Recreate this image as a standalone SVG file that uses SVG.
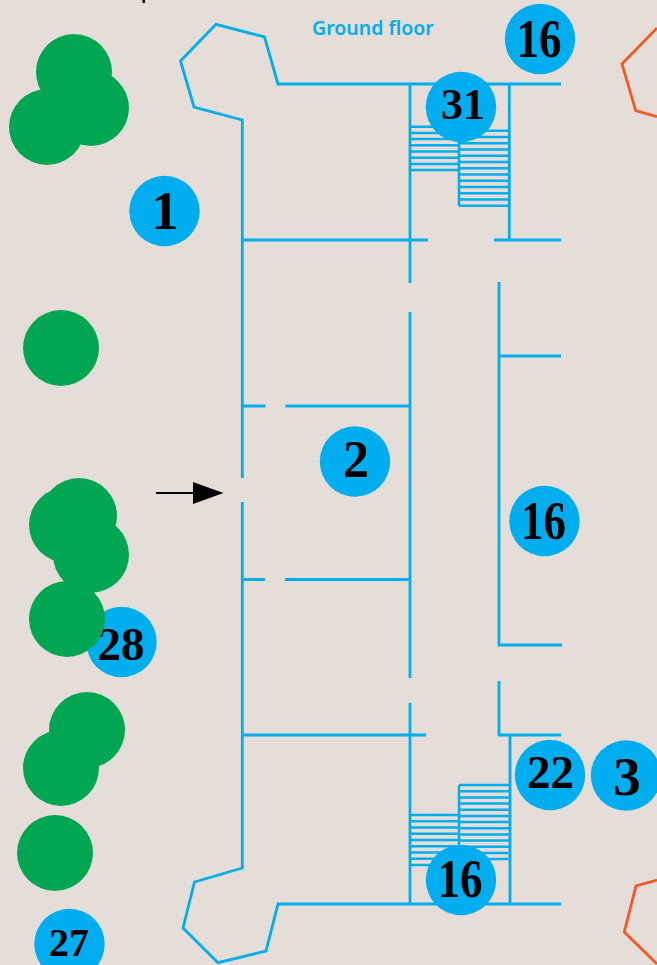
<svg xmlns="http://www.w3.org/2000/svg" width="657" height="965" viewBox="0 0 657 965">
<style>
.w{fill:none;stroke:#00aeef;stroke-width:2.800;stroke-linejoin:miter}
.s{fill:none;stroke:#00aeef;stroke-width:2.500}
.o{fill:none;stroke:#f15a24;stroke-width:2.800}
.t{fill:#00a651}
.b{fill:#00aeef}
.n{font-family:"Liberation Serif",serif;font-weight:700;text-anchor:middle;fill:#000}
.l{font-family:"Noto Sans",sans-serif;font-weight:600;font-size:19.500px;fill:#00aeef}
</style>
<rect width="657" height="965" fill="#e5ddd7"/>
<rect x="142.500" y="0" width="2.500" height="3" fill="#000"/>
<g id="plan">
<path class="w" d="M561 84H278L264.500 37 216 24.300 180.500 61 194 107 242.300 120V478M242.300 502V868L194.500 882 183 928 218 962.700 266 951 278 904H561"/>
<path class="w" d="M410 84V283M410 312V678M410 703V904M509.300 84V240M510 735V904M499 282V645H562M499 356H561M499 681V735H561"/>
<path class="w" d="M242 240H428M494 240H561M242 406H265.500M285.500 406H410M242 579.500H265M285 579.500H410M242 735H426"/>
</g>
<g id="stairs">
<path class="s" d="M410 126.700H459M410 132.900H459M410 139.100H459M410 145.300H459M410 151.500H459M410 157.700H459M410 163.900H459M410 170H459"/>
<path class="s" d="M459 126V206M459 130.700H510M459 137H510M459 143.200H510M459 149.500H510M459 155.700H510M459 162H510M459 168.200H510M459 174.500H510M459 180.700H510M459 187H510M459 193.200H510M459 199.500H510M459 205.700H510"/>
<path class="s" d="M459 785V860M459 785H510M459 791.200H510M459 797.400H510M459 803.500H510M459 809.700H510M459 815.900H510M459 822H510M459 828.200H510M459 834.400H510M459 840.500H510M459 846.700H510M459 852.900H510M459 859H510"/>
<path class="s" d="M410 815H459M410 821.200H459M410 827.500H459M410 833.700H459M410 840H459M410 846.200H459M410 852.500H459M410 858.700H459M410 865H459"/>
</g>
<g id="outlines">
<path class="o" d="M657 28L622 64 635.700 110.700 657 116.700"/>
<path class="o" d="M657 880L636 886 624.300 932 657 964"/>
</g>
<g id="connectors">
<path d="M156 493H195" fill="none" stroke="#000" stroke-width="2"/>
<path d="M193 482L223.500 493 193 504Z" fill="#000"/>
</g>
<text class="l" x="312" y="35">Ground floor</text>
<g id="n28"><circle class="b" cx="121.500" cy="642" r="35.200"/><text class="n" x="121" y="660" font-size="47">28</text></g>
<g id="trees">
<circle class="t" cx="74" cy="72" r="38"/><circle class="t" cx="91" cy="108" r="38"/><circle class="t" cx="47" cy="127" r="38"/>
<circle class="t" cx="61" cy="348" r="38"/>
<circle class="t" cx="79" cy="516" r="38"/><circle class="t" cx="67" cy="525" r="38"/><circle class="t" cx="91" cy="554.700" r="38"/><circle class="t" cx="67" cy="619" r="38"/>
<circle class="t" cx="87" cy="730" r="38"/><circle class="t" cx="61" cy="768" r="38"/><circle class="t" cx="55" cy="853" r="38"/>
</g>
<g id="n1"><circle class="b" cx="164.500" cy="211" r="35.200"/><text class="n" x="165" y="229" font-size="55">1</text></g>
<g id="n16a"><circle class="b" cx="540" cy="39" r="35.200"/><text class="n" x="539" y="57" font-size="54" textLength="45" lengthAdjust="spacingAndGlyphs">16</text></g>
<g id="n31"><circle class="b" cx="461" cy="107" r="35.200"/><text class="n" x="463" y="119" font-size="44">31</text></g>
<g id="n2"><circle class="b" cx="355" cy="461.500" r="35.200"/><text class="n" x="356" y="477" font-size="52">2</text></g>
<g id="n16b"><circle class="b" cx="544.500" cy="521" r="35.200"/><text class="n" x="543.500" y="539" font-size="54" textLength="45" lengthAdjust="spacingAndGlyphs">16</text></g>
<g id="n22"><circle class="b" cx="550" cy="775" r="35.200"/><text class="n" x="550.500" y="788" font-size="47">22</text></g>
<g id="n3"><circle class="b" cx="626" cy="775.500" r="35.200"/><text class="n" x="627" y="795" font-size="55">3</text></g>
<g id="n16c"><circle class="b" cx="461" cy="880" r="35.200"/><text class="n" x="460" y="897" font-size="54" textLength="45" lengthAdjust="spacingAndGlyphs">16</text></g>
<g id="n27"><circle class="b" cx="69.500" cy="944" r="35.200"/><text class="n" x="69" y="956" font-size="40">27</text></g>
</svg>
